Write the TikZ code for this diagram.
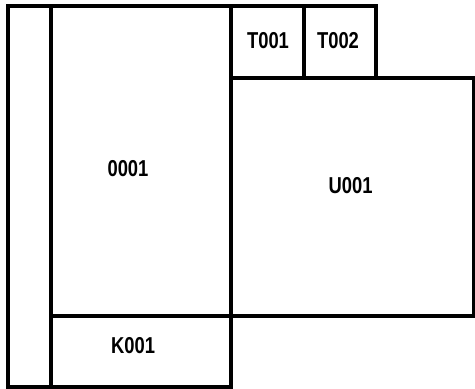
\documentclass[tikz,border=0pt]{standalone}
\usepackage{fontspec}
\newfontfamily\labfont[FakeStretch=0.8]{Liberation Sans}
\begin{document}
\begin{tikzpicture}[x=1pt,y=-1pt,
  box/.style={draw=black,line width=4pt},
  lab/.style={font=\labfont\bfseries\fontsize{23}{23}\selectfont,inner sep=0pt,anchor=center}]
\useasboundingbox (0,0) rectangle (475,389);
% left block
\draw[box] (7.5,6) rectangle (231,387);
\draw[box] (50.5,6) -- (50.5,387);
\draw[box] (50.5,316) -- (231,316);
% T boxes
\draw[box] (231,6) rectangle (303.5,78);
\draw[box] (303.5,6) rectangle (375.5,78);
% U box
\draw[box] (231,78) rectangle (473.5,316);
% labels
\node[lab] (l0001) at (128,168.5) {0001};
\node[lab] (lU001) at (350.5,185.5) {U001};
\node[lab] (lT001) at (268,40.5) {T001};
\node[lab] (lT002) at (338,40.5) {T002};
\node[lab] (lK001) at (133,345.5) {K001};
\end{tikzpicture}
\end{document}
